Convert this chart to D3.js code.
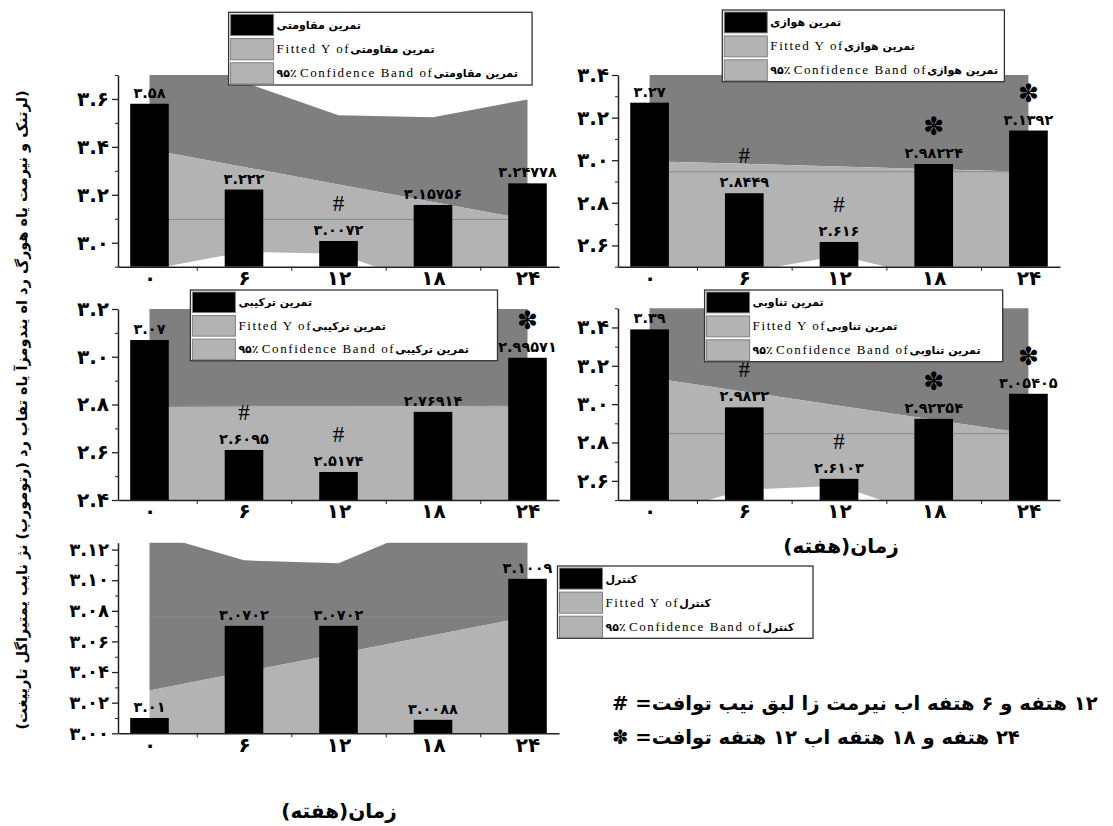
<!DOCTYPE html>
<html><head><meta charset="utf-8">
<script src="https://cdn.jsdelivr.net/npm/d3@7/dist/d3.min.js"></script>
<style>body{margin:0;background:#fff}svg{display:block}</style>
</head><body>
<svg id="chart" width="1113" height="826"></svg>
<script>
// ---------- data ----------
const categories = [0, 6, 12, 18, 24];
const xTickLabels = ["۰", "۶", "۱۲", "۱۸", "۲۴"];
const xMinorTicks = [3, 9, 15, 21];

const resistanceName = "تمرین مقاومتی";
const resistanceValues = [3.58, 3.222, 3.0072, 3.15756, 3.24778];
const resistanceFit = [3.389, 3.316, 3.243, 3.170, 3.097];
const resistanceUpper = [3.889, 3.670, 3.532, 3.524, 3.598];
const resistanceLower = [2.888, 2.962, 2.954, 2.816, 2.596];
const resistanceMarks = ["", "", "#", "", ""];
const resistanceYTicks = [3.0, 3.2, 3.4, 3.6];
const resistanceYTickLabels = ["۳.۰", "۳.۲", "۳.۴", "۳.۶"];
const resistanceYMinor = [2.9, 3.1, 3.3, 3.5, 3.7];

const aerobicName = "تمرین هوازی";
const aerobicValues = [3.27, 2.8449, 2.616, 2.98224, 3.1392];
const aerobicFit = [2.995, 2.983, 2.970, 2.958, 2.946];
const aerobicUpper = [3.719, 3.494, 3.388, 3.469, 3.669];
const aerobicLower = [2.272, 2.472, 2.553, 2.447, 2.222];
const aerobicMarks = ["", "#", "#", "✽", "✽"];
const aerobicYTicks = [2.6, 2.8, 3.0, 3.2, 3.4];
const aerobicYTickLabels = ["۲.۶", "۲.۸", "۳.۰", "۳.۲", "۳.۴"];
const aerobicYMinor = [2.5, 2.7, 2.9, 3.1, 3.3];

const combinedName = "تمرین ترکیبی";
const combinedValues = [3.07, 2.6095, 2.5174, 2.76914, 2.99571];
const combinedFit = [2.790, 2.791, 2.792, 2.793, 2.795];
const combinedUpper = [3.470, 3.272, 3.185, 3.274, 3.474];
const combinedLower = [2.111, 2.311, 2.400, 2.313, 2.115];
const combinedMarks = ["", "#", "#", "", "✽"];
const combinedYTicks = [2.4, 2.6, 2.8, 3.0, 3.2];
const combinedYTickLabels = ["۲.۴", "۲.۶", "۲.۸", "۳.۰", "۳.۲"];
const combinedYMinor = [2.5, 2.7, 2.9, 3.1];

const intervalName = "تمرین تناوبی";
const intervalValues = [3.39, 2.9832, 2.6103, 2.92354, 3.05405];
const intervalFit = [3.139, 3.065, 2.992, 2.919, 2.846];
const intervalUpper = [3.863, 3.578, 3.411, 3.431, 3.570];
const intervalLower = [2.414, 2.553, 2.574, 2.407, 2.121];
const intervalMarks = ["", "#", "#", "✽", "✽"];
const intervalYTicks = [2.6, 2.8, 3.0, 3.2, 3.4];
const intervalYTickLabels = ["۲.۶", "۲.۸", "۳.۰", "۳.۲", "۳.۴"];
const intervalYMinor = [2.5, 2.7, 2.9, 3.1, 3.3, 3.5];

const controlName = "کنترل";
const controlValues = [3.01, 3.0702, 3.0702, 3.0088, 3.1009];
const controlFit = [3.028, 3.040, 3.052, 3.064, 3.076];
const controlUpper = [3.131, 3.113, 3.111, 3.137, 3.179];
const controlLower = [2.925, 2.967, 2.993, 2.991, 2.973];
const controlMarks = ["", "", "", "", ""];
const controlYTicks = [3.00, 3.02, 3.04, 3.06, 3.08, 3.10, 3.12];
const controlYTickLabels = ["۳.۰۰", "۳.۰۲", "۳.۰۴", "۳.۰۶", "۳.۰۸", "۳.۱۰", "۳.۱۲"];
const controlYMinor = [3.01, 3.03, 3.05, 3.07, 3.09, 3.11];

const xTitle = "زمان(هفته)";
const yTitle = "(تغییرات لگاریتمی بیان ژن (پروموتر) در بافت های آزمودنی ها در گروه های تمرین و کنترل)";
const note1 = "# =تفاوت بین قبل از تمرین با هفته ۶ و هفته ۱۲";
const note2 = "✽ =تفاوت هفته ۱۲ با هفته ۱۸ و هفته ۲۴";
const fittedLabel = "Fitted Y of";
const bandLabel = " Confidence Band of";
const bandPct = "۹۵٪";

// ---------- layout ----------
const panels = [
  {name: resistanceName, values: resistanceValues, fit: resistanceFit, upper: resistanceUpper, lower: resistanceLower,
   marks: resistanceMarks, yTicks: resistanceYTicks, yLabels: resistanceYTickLabels, yMinor: resistanceYMinor,
   yDomain: [2.9, 3.7], box: {l: 118, r: 559, t: 75, b: 266.7}, legend: {x0: 228.6, y0: 12.3, x1: 532.1, y1: 85}},
  {name: aerobicName, values: aerobicValues, fit: aerobicFit, upper: aerobicUpper, lower: aerobicLower,
   marks: aerobicMarks, yTicks: aerobicYTicks, yLabels: aerobicYTickLabels, yMinor: aerobicYMinor,
   yDomain: [2.5, 3.4], box: {l: 618, r: 1060, t: 75, b: 266.7}, legend: {x0: 722.3, y0: 10, x1: 1004.4, y1: 81.7}},
  {name: combinedName, values: combinedValues, fit: combinedFit, upper: combinedUpper, lower: combinedLower,
   marks: combinedMarks, yTicks: combinedYTicks, yLabels: combinedYTickLabels, yMinor: combinedYMinor,
   yDomain: [2.4, 3.2], box: {l: 118, r: 559, t: 309, b: 500}, legend: {x0: 190.4, y0: 290, x1: 497.5, y1: 360.7}},
  {name: intervalName, values: intervalValues, fit: intervalFit, upper: intervalUpper, lower: intervalLower,
   marks: intervalMarks, yTicks: intervalYTicks, yLabels: intervalYTickLabels, yMinor: intervalYMinor,
   yDomain: [2.5, 3.5], box: {l: 618, r: 1060, t: 308.3, b: 500}, legend: {x0: 704.6, y0: 290, x1: 1002.7, y1: 361.7}},
  {name: controlName, values: controlValues, fit: controlFit, upper: controlUpper, lower: controlLower,
   marks: controlMarks, yTicks: controlYTicks, yLabels: controlYTickLabels, yMinor: controlYMinor,
   yDomain: [3.0, 3.1245], box: {l: 118, r: 559, t: 542.7, b: 733.3}, legend: {x0: 557.5, y0: 566, x1: 813, y1: 638.3}}
];

const DARK = "#7f7f7f", LIGHT = "#b3b3b3";
const FA = "'DejaVu Sans', 'Noto Sans', sans-serif";
const SERIF = "'Liberation Serif', 'DejaVu Serif', serif";
const toFa = s => String(s).replace(/[0-9]/g, d => "۰۱۲۳۴۵۶۷۸۹"[+d]);

const svg = d3.select("#chart");

panels.forEach((p, pi) => {
  const {l, r, t, b} = p.box;
  const x = d3.scaleLinear().domain([-2, 26]).range([l, r]);
  const y = d3.scaleLinear().domain(p.yDomain).range([b, t]);
  const g = svg.append("g");
  const clipId = "clip" + pi;
  g.append("clipPath").attr("id", clipId).append("rect")
    .attr("x", l).attr("y", t).attr("width", r - l).attr("height", b - t);

  const rows = categories.map((c, i) => ({c, v: p.values[i], f: p.fit[i], u: p.upper[i], lo: p.lower[i], m: p.marks[i]}));
  const bands = g.append("g").attr("clip-path", `url(#${clipId})`);
  bands.append("path").datum(rows)
    .attr("d", d3.area().x(d => x(d.c)).y0(d => y(d.f)).y1(d => y(d.u)))
    .attr("fill", DARK);
  bands.append("path").datum(rows)
    .attr("d", d3.area().x(d => x(d.c)).y0(d => y(d.lo)).y1(d => y(d.f)))
    .attr("fill", LIGHT);
  bands.append("line")
    .attr("x1", x(categories[0])).attr("x2", x(categories[categories.length - 1]))
    .attr("y1", y(p.fit[p.fit.length - 1])).attr("y2", y(p.fit[p.fit.length - 1]))
    .attr("stroke", "#8a8a8a").attr("stroke-width", 1);

  const bw = x(2.45) - x(0);
  g.append("g").selectAll("rect").data(rows).join("rect")
    .attr("x", d => x(d.c) - bw / 2).attr("width", bw)
    .attr("y", d => y(d.v)).attr("height", d => y(p.yDomain[0]) - y(d.v))
    .attr("fill", "#000");

  // axes
  const yAxis = g.append("g").attr("transform", `translate(${l},0)`)
    .call(d3.axisLeft(y).tickValues(p.yTicks).tickSize(6).tickSizeOuter(0).tickPadding(3)
      .tickFormat((d, i) => p.yLabels[i]));
  yAxis.select(".domain").attr("stroke", "#222").attr("stroke-width", 1.5);
  yAxis.selectAll(".tick line").attr("stroke", "#222").attr("stroke-width", 1.3);
  yAxis.selectAll("text").attr("font-family", FA).attr("font-weight", "bold")
    .attr("font-size", pi === 4 ? 18 : 20).attr("fill", "#000");
  const yMin = g.append("g").attr("transform", `translate(${l},0)`)
    .call(d3.axisLeft(y).tickValues(p.yMinor).tickSize(3).tickSizeOuter(0).tickFormat(""));
  yMin.select(".domain").remove();
  yMin.selectAll(".tick line").attr("stroke", "#222");

  const xAxis = g.append("g").attr("transform", `translate(0,${b})`)
    .call(d3.axisBottom(x).tickValues(categories).tickSize(0).tickSizeOuter(0).tickPadding(4)
      .tickFormat((d, i) => xTickLabels[i]));
  xAxis.select(".domain").attr("stroke", "#222").attr("stroke-width", 1.5);
  xAxis.selectAll("text").attr("font-family", FA).attr("font-weight", "bold")
    .attr("font-size", 20).attr("fill", "#000");
  const xMin = g.append("g").attr("transform", `translate(0,${b})`)
    .call(d3.axisBottom(x).tickValues(xMinorTicks).tickSize(4).tickSizeOuter(0).tickFormat(""));
  xMin.select(".domain").remove();
  xMin.selectAll(".tick line").attr("stroke", "#222");

  // bar labels and marks
  g.append("g").selectAll("text").data(rows).join("text")
    .attr("x", d => x(d.c)).attr("y", d => y(d.v) - 6)
    .attr("text-anchor", "middle").attr("font-family", FA).attr("font-weight", "bold")
    .attr("font-size", 14.5).text(d => toFa(d.v));
  g.append("g").selectAll("text").data(rows.filter(d => d.m)).join("text")
    .attr("x", d => x(d.c)).attr("y", d => y(d.v) - (d.m === "#" ? 30 : 29))
    .attr("text-anchor", "middle")
    .attr("font-family", d => d.m === "#" ? SERIF : FA)
    .attr("font-size", d => d.m === "#" ? 23 : 25)
    .text(d => d.m);

  // legend
  const L = p.legend;
  const lg = g.append("g");
  lg.append("rect").attr("x", L.x0).attr("y", L.y0).attr("width", L.x1 - L.x0).attr("height", L.y1 - L.y0)
    .attr("fill", "#fff").attr("stroke", "#333").attr("stroke-width", 1.3);
  const rh = (L.y1 - L.y0) / 3;
  [0, 1, 2].forEach(i => {
    lg.append("rect").attr("x", L.x0 + 2).attr("y", L.y0 + 2 + i * rh).attr("width", 43).attr("height", rh - 3)
      .attr("fill", i === 0 ? "#000" : LIGHT).attr("stroke", "#808080").attr("stroke-width", 1);
    const tx = lg.append("text").attr("x", L.x0 + 48).attr("y", L.y0 + i * rh + rh / 2 + 4.5)
      .attr("font-size", 11.5);
    if (i === 1) {
      tx.append("tspan").attr("font-family", SERIF).attr("font-size", 13).style("letter-spacing", "1.6px").text(fittedLabel);
    }
    if (i === 2) {
      tx.append("tspan").attr("font-family", FA).attr("font-weight", "bold").attr("font-size", 11).text(bandPct);
      tx.append("tspan").attr("font-family", SERIF).attr("font-size", 13).style("letter-spacing", "1.6px").text(bandLabel);
    }
    tx.append("tspan").attr("font-family", FA).attr("font-weight", "bold").attr("font-size", 11).text(p.name);
  });
});

// titles
[[841, 553], [339, 818]].forEach(([cx, cy]) => {
  svg.append("text").attr("x", cx).attr("y", cy).attr("text-anchor", "middle")
    .attr("font-family", FA).attr("font-weight", "bold").attr("font-size", 20).text(xTitle);
});

const yt = svg.append("text").attr("transform", "translate(27,410) rotate(-90)")
  .attr("text-anchor", "middle").attr("font-family", FA).attr("font-weight", "bold")
  .attr("font-size", 16)
  .attr("direction", "ltr").attr("unicode-bidi", "bidi-override")
  .style("direction", "ltr").style("unicode-bidi", "bidi-override").text(yTitle);
const ylen = yt.node().getComputedTextLength();
yt.attr("font-size", Math.min(18, 16 * 640 / ylen));

const n1 = svg.append("text").attr("x", 612).attr("y", 710).attr("font-family", FA)
  .attr("font-weight", "bold").attr("font-size", 20)
  .attr("direction", "ltr").attr("unicode-bidi", "bidi-override")
  .style("direction", "ltr").style("unicode-bidi", "bidi-override").text(note1);
const len1 = n1.node().getComputedTextLength();
const fs = 20 * 486 / len1;
n1.attr("font-size", fs);
svg.append("text").attr("x", 612).attr("y", 744).attr("font-family", FA)
  .attr("font-weight", "bold").attr("font-size", fs)
  .attr("direction", "ltr").attr("unicode-bidi", "bidi-override")
  .style("direction", "ltr").style("unicode-bidi", "bidi-override").text(note2);
</script>
</body></html>
